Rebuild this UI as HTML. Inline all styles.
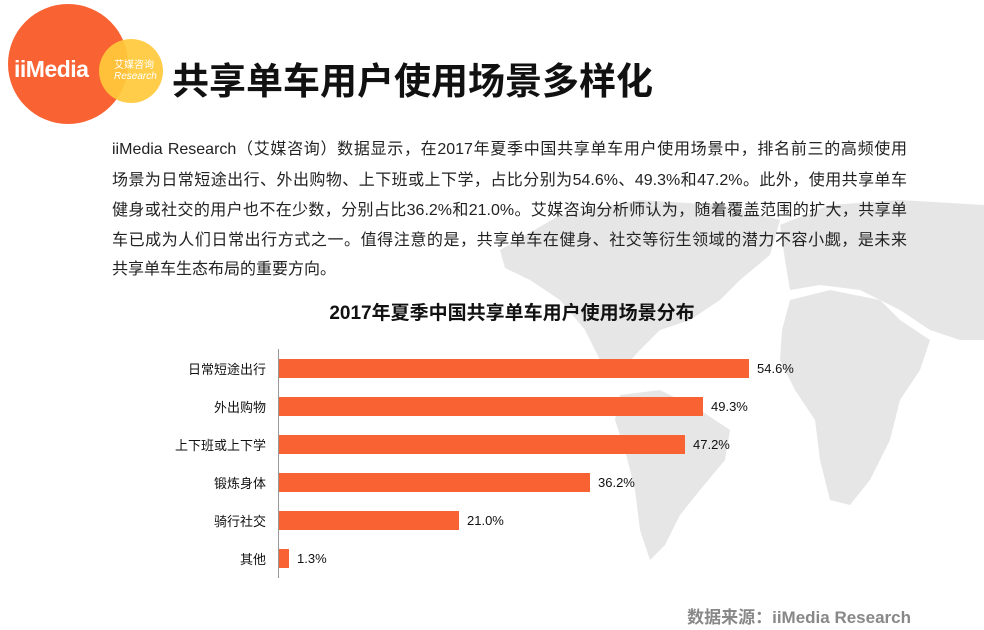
<!DOCTYPE html>
<html><head><meta charset="utf-8"><style>
body{margin:0;width:984px;height:630px;background:#fff;position:relative;overflow:hidden;font-family:"Liberation Sans","Noto Sans CJK SC",sans-serif}
.a{position:absolute}
.ln{position:absolute;left:112px;width:795px;font-size:16px;line-height:20px;color:#222;text-align:justify;text-align-last:justify;white-space:nowrap}
.lab{right:718px;font-size:13px;color:#111;text-align:right;white-space:nowrap}
.bar{left:279px;height:19px;background:#f96233}
.v{font-size:13px;color:#111}
</style></head><body>
<svg class="a" style="left:0;top:0" width="984" height="630">
<g fill="#e6e6e6">
<path d="M500 250 L560 215 L640 200 L720 205 L780 220 L770 255 L740 280 L720 300 L690 320 L660 330 L640 350 L620 372 L600 360 L585 330 L560 300 L530 280 L505 268Z"/>
<path d="M620 395 L660 390 L700 410 L730 430 L725 460 L700 490 L680 515 L665 545 L650 560 L640 530 L635 490 L625 450 L615 420Z"/>
<path d="M790 300 L830 290 L880 300 L900 320 L930 340 L920 370 L900 400 L890 440 L870 480 L850 505 L830 500 L820 460 L815 420 L795 390 L780 360 L782 330Z"/>
<path d="M780 225 L830 205 L900 200 L984 205 L984 340 L960 340 L930 330 L900 310 L860 290 L820 285 L790 290 L785 260Z"/>
</g>
<circle cx="68" cy="64" r="60" fill="#f96233"/>
<circle cx="131" cy="71" r="32" fill="#ffc93a" opacity="0.92"/>
<line x1="278.5" y1="349" x2="278.5" y2="578" stroke="#999" stroke-width="1"/>
</svg>
<div class="a" style="left:14px;top:56px;color:#fff;font-weight:bold;font-size:23px;letter-spacing:-0.5px">iiMedia</div>
<div class="a" style="left:114px;top:60px;color:#fff;font-size:10px;line-height:11px">艾媒咨询<br><i>Research</i></div>
<div class="a" style="left:172px;top:55px;font-size:37px;font-weight:bold;color:#111;font-family:'Noto Sans CJK SC',sans-serif;line-height:46px;white-space:nowrap">共享单车用户使用场景多样化</div>
<div class="ln" style="top:140px">iiMedia Research（艾媒咨询）数据显示，在2017年夏季中国共享单车用户使用场景中，排名前三的高频使用</div>
<div class="ln" style="top:171px">场景为日常短途出行、外出购物、上下班或上下学，占比分别为54.6%、49.3%和47.2%。此外，使用共享单车</div>
<div class="ln" style="top:201px">健身或社交的用户也不在少数，分别占比36.2%和21.0%。艾媒咨询分析师认为，随着覆盖范围的扩大，共享单</div>
<div class="ln" style="top:231px">车已成为人们日常出行方式之一。值得注意的是，共享单车在健身、社交等衍生领域的潜力不容小觑，是未来</div>
<div class="ln" style="top:260px;text-align-last:left;width:auto">共享单车生态布局的重要方向。</div>
<div class="a" style="left:0;width:1024px;top:298px;text-align:center;font-size:19px;font-weight:bold;color:#111">2017年夏季中国共享单车用户使用场景分布</div>
<div class="a lab" style="top:359px">日常短途出行</div><div class="a bar" style="top:359px;width:470px"></div><div class="a v" style="left:757px;top:361px">54.6%</div>
<div class="a lab" style="top:397px">外出购物</div><div class="a bar" style="top:397px;width:424px"></div><div class="a v" style="left:711px;top:399px">49.3%</div>
<div class="a lab" style="top:435px">上下班或上下学</div><div class="a bar" style="top:435px;width:406px"></div><div class="a v" style="left:693px;top:437px">47.2%</div>
<div class="a lab" style="top:473px">锻炼身体</div><div class="a bar" style="top:473px;width:311px"></div><div class="a v" style="left:598px;top:475px">36.2%</div>
<div class="a lab" style="top:511px">骑行社交</div><div class="a bar" style="top:511px;width:180px"></div><div class="a v" style="left:467px;top:513px">21.0%</div>
<div class="a lab" style="top:549px">其他</div><div class="a bar" style="top:549px;width:10px"></div><div class="a v" style="left:297px;top:551px">1.3%</div>
<div class="a" style="right:73px;top:603px;font-size:17px;font-weight:bold;color:#888">数据来源：iiMedia Research</div>
</body></html>
